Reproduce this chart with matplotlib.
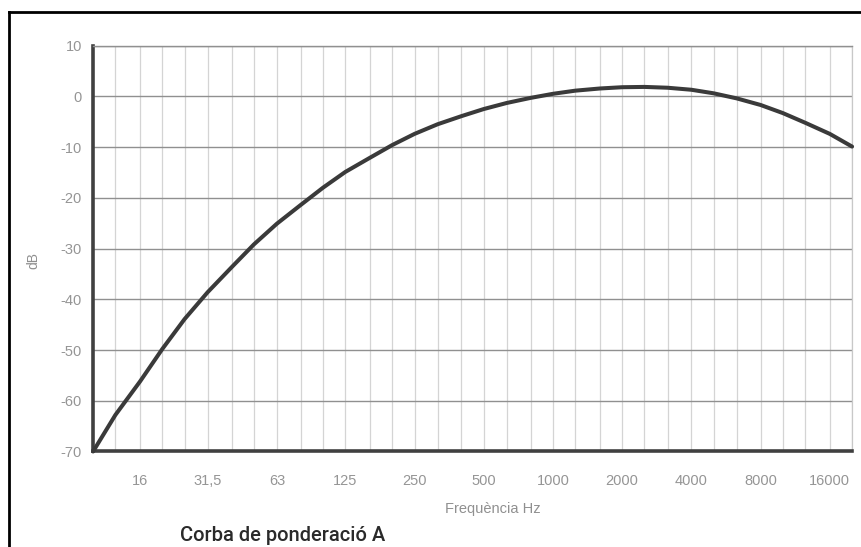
import numpy as np
import matplotlib
matplotlib.use("Agg")
from matplotlib import pyplot as plt
from matplotlib.lines import Line2D

# third-octave frequencies (Hz) and weighting (dB)
freqs = [10, 12.5, 16, 20, 25, 31.5, 40, 50, 63, 80, 100, 125, 160, 200,
         250, 315, 400, 500, 630, 800, 1000, 1250, 1600, 2000, 2500, 3150,
         4000, 5000, 6300, 8000, 10000, 12500, 16000, 20000]
gain_db = [-70.0, -62.8, -56.2, -49.8, -43.9, -38.6, -33.7, -29.2, -25.1,
           -21.4, -18.0, -14.9, -12.1, -9.6, -7.4, -5.5, -3.9, -2.5,
           -1.3, -0.3, 0.5, 1.12, 1.55, 1.8, 1.86, 1.7, 1.3, 0.6, -0.4,
           -1.7, -3.3, -5.2, -7.4, -9.9]

x_ticks = [16, 31.5, 63, 125, 250, 500, 1000, 2000, 4000, 8000, 16000]
x_labels = ["16", "31,5", "63", "125", "250", "500", "1000", "2000",
            "4000", "8000", "16000"]
y_ticks = [10, 0, -10, -20, -30, -40, -50, -60, -70]

plt.rcParams["font.family"] = ["Liberation Sans", "DejaVu Sans"]

fig = plt.figure(figsize=(8.62, 5.47), dpi=100)
ax = fig.add_axes([0.108, 0.1746, 0.8805, 0.742])

ax.set_xscale("log")
ax.set_xlim(10, 20000)
ax.set_ylim(-70, 10)

# grid: light third-octave verticals, darker 10 dB horizontals
ax.set_xticks(freqs, minor=True)
ax.set_xticks(x_ticks)
ax.set_xticklabels(x_labels)
ax.xaxis.set_minor_formatter(plt.NullFormatter())
ax.set_yticks(y_ticks)
ax.set_yticklabels([str(v) for v in y_ticks])
ax.grid(which="minor", axis="x", color="#d4d4d4", lw=0.9)
ax.grid(which="major", axis="x", color="#d4d4d4", lw=0.9)
ax.grid(which="major", axis="y", color="#909090", lw=1.0)
ax.tick_params(which="both", length=0, colors="#959595", labelsize=10.5)
ax.tick_params(axis="x", pad=16)
ax.tick_params(axis="y", pad=8)

ax.spines["top"].set_color("#909090")
ax.spines["top"].set_linewidth(1.0)
ax.spines["right"].set_color("#c8c8c8")
ax.spines["right"].set_linewidth(0.9)
for side in ["left", "bottom"]:
    ax.spines[side].set_color("#404040")
    ax.spines[side].set_linewidth(2.6)

ax.plot(freqs, gain_db, color="#3a3a3a", lw=2.9, solid_capstyle="round",
        solid_joinstyle="round", clip_on=False, zorder=5)

ax.set_xlabel("Frequència Hz", color="#909090", fontsize=10.5)
ax.xaxis.set_label_coords(0.526, -0.125)
ax.set_ylabel("dB", color="#909090", fontsize=10)
ax.yaxis.set_label_coords(-0.07, 0.47)

fig.text(0.209, 0.011, "Corba de ponderació A", fontsize=14.5,
         family=["Roboto", "Liberation Sans"], weight="medium",
         color="#2a2a2a", ha="left", va="baseline")

# scanned page frame (left and top edges)
fig.add_artist(Line2D([0.0105, 0.0105], [0.0, 0.978], color="black",
                      lw=2.0, transform=fig.transFigure))
fig.add_artist(Line2D([0.0105, 1.0], [0.978, 0.978], color="black",
                      lw=2.0, transform=fig.transFigure))

fig.savefig("out.png", dpi=100, facecolor="white")
